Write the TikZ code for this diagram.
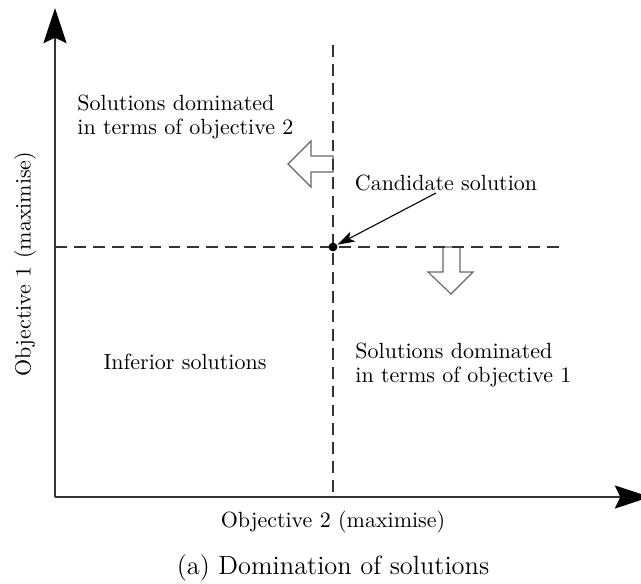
\documentclass[tikz,border=0pt]{standalone}
\usetikzlibrary{arrows.meta}
\begin{document}
\begin{tikzpicture}[x=0.4545pt, y=-0.4545pt,
  axis/.style={line width=0.6pt, draw=black!80, -{Stealth[length=16pt,width=10.5pt,inset=2.5pt,color=black]}},
  guide/.style={line width=0.6pt, draw=black!80, dash pattern=on 5.4pt off 3.2pt},
  blockarrow/.style={draw=black!60, line width=0.5pt, fill=white},
  lbl/.style={inner sep=0pt, font=\normalsize},
  lblleft/.style={lbl, anchor=west, align=left}]
  \useasboundingbox (0,0) rectangle (641,583);

  % axes
  \coordinate (O) at (55,497);
  \coordinate (ytop) at (55,8);
  \coordinate (xend) at (650,497);
  \draw[axis] (O) -- (ytop);
  \draw[axis] (O) -- (xend);

  % dashed guides through the candidate solution
  \coordinate (vtop) at (333,45);
  \coordinate (vbot) at (333,497);
  \coordinate (hleft) at (55,247);
  \coordinate (hright) at (560,247);
  \draw[guide] (vtop) -- (vbot);
  \draw[guide] (hleft) -- (hright);

  % block arrows
  \draw[blockarrow] (333,156) -- (311,156) -- (311,141) -- (288,164)
    -- (311,187) -- (311,172) -- (333,172) -- cycle;
  \draw[blockarrow] (443,247) -- (443,272) -- (428,272) -- (451,294)
    -- (473,272) -- (460,272) -- (460,247) -- cycle;
  \begin{scope}
    \clip (325,140) rectangle (341,190);
    \draw[guide] (vtop) -- (vbot);
  \end{scope}
  \begin{scope}
    \clip (420,240) rectangle (480,254);
    \draw[guide] (hleft) -- (hright);
  \end{scope}

  % candidate solution
  \node[circle, fill=black, inner sep=0pt, minimum size=4pt] (cand) at (333,247) {};
  \node[lbl] (candlbl) at (446,183) {Candidate solution};
  \draw[line width=0.5pt, -{Stealth[length=8pt,width=5pt,inset=2pt]}] (436,193) -- (cand);

  % region labels
  \node[lblleft] (dom2) at (77,117) {Solutions dominated\\[-1pt]in terms of objective 2};
  \node[lblleft] (dom1) at (355,365) {Solutions dominated\\[-1pt]in terms of objective 1};
  \node[lbl] (inferior) at (185,362) {Inferior solutions};

  % axis labels and caption
  \node[lbl] (xlabel) at (333,522) {Objective 2 (maximise)};
  \node[lbl, rotate=90] (ylabel) at (25,264) {Objective 1 (maximise)};
  \node[lbl, font=\large] (caption) at (333,568) {(a) Domination of solutions};
\end{tikzpicture}
\end{document}
